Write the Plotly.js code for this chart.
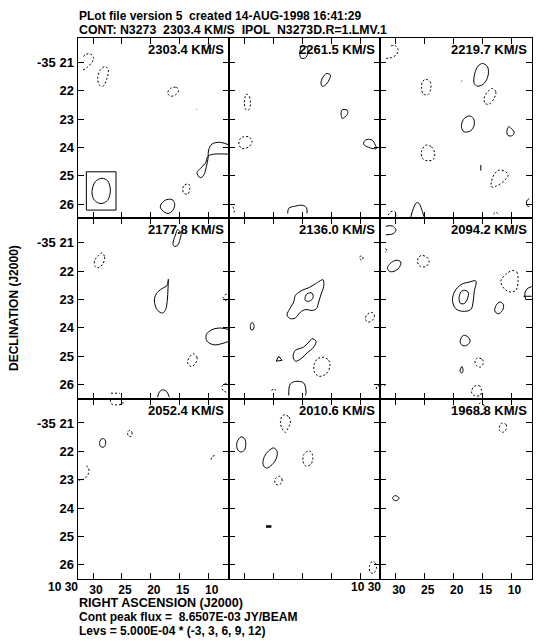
<!DOCTYPE html>
<html><head><meta charset="utf-8">
<script src="https://cdn.plot.ly/plotly-3.0.1.min.js"></script>
<style>html,body{margin:0;padding:0;background:#fff}#chart{width:547px;height:641px}</style>
</head><body><div id="chart"></div>
<script>
// ---------- data ----------
const velocities = ["2303.4","2261.5","2219.7","2177.8","2136.0","2094.2","2052.4","2010.6","1968.8"];
const raTickVals = [30, 25, 20, 15, 10];
const raTickText = ["30", "25", "20", "15", "10"];
const decTickVals = [21, 22, 23, 24, 25, 26];
const decTickText = ["-35 21", "22", "23", "24", "25", "26"];
const raRange = [32.68, 6.50];     // RA seconds of 10h30m
const decRange = [26.50, 20.14];   // Dec arcmin of -35 deg
const contourLevels = [-3, 3, 6, 9, 12];
const levelUnit = "5.000E-04";
const peakFlux = "8.6507E-03";
// beam
const beamRa = [28.44, 27.46, 27.00, 27.46, 28.62, 29.77, 30.17, 29.60];
const beamDec = [25.09, 25.18, 25.51, 25.86, 25.98, 25.86, 25.56, 25.21];
const beamBoxRa = [31.15, 26.02];
const beamBoxDec = [24.86, 26.21];

// contours per channel: [level, closed, ra[], dec[]]
const ch2303 = [
  [-3, 0, [31.73,31.04,30.35,29.88,30.35,31.15,31.73], [21.27,21.18,21.04,20.86,20.71,20.71,20.80]],
  [-3, 1, [27.87,27.35,27.58,28.27,28.90,29.19,28.73], [21.15,21.27,21.56,21.84,21.80,21.56,21.27]],
  [-3, 1, [16.63,15.59,15.19,15.76,16.63,17.09], [21.92,21.88,21.98,22.15,22.19,22.09]],
  [-3, 0, [12.15,12.10], [22.64,22.66]],
  [3, 0, [6.4,9.13,10.11,10.58,11.44,12.02,11.44,10.86,10.40,10.11,10.0,9.42,7.98,6.4], [24.24,24.24,24.31,24.56,24.74,24.89,25.07,24.98,24.68,24.39,24.09,23.88,23.82,23.92]],
  [-3, 1, [14.21,13.46,13.28,13.63,14.32,14.49], [25.33,25.29,25.48,25.65,25.60,25.45]],
  [3, 1, [17.49,16.34,15.88,16.17,17.03,18.07,18.36], [25.86,25.84,25.98,26.21,26.33,26.21,26.07]],
  [-3, 1, [10.58,9.83,9.60,9.94,10.52,10.75], [20.39,20.36,20.54,20.68,20.66,20.52]]
];
const ch2261 = [
  [3, 1, [20.03,19.16,19.05,19.45,20.20,20.43], [20.42,20.47,20.68,20.84,20.85,20.66]],
  [3, 1, [15.71,15.13,15.36,15.99,16.57,16.74,16.28], [21.39,21.45,21.62,21.80,21.84,21.68,21.48]],
  [-3, 1, [29.65,29.14,28.96,29.19,29.77,30.0,29.88], [22.12,22.21,22.45,22.66,22.66,22.45,22.21]],
  [3, 1, [13.11,12.25,12.13,12.71,13.05,13.28], [22.68,22.68,22.80,22.94,22.98,22.82]],
  [-3, 1, [30.12,29.08,28.67,29.25,30.40,30.92,30.81], [23.62,23.65,23.80,23.98,24.04,23.92,23.72]],
  [3, 1, [8.79,7.92,7.35,7.17,8.50,9.37,9.25], [23.72,23.74,23.92,24.04,24.00,23.89,23.78]],
  [3, 0, [22.51,22.33,21.18,20.03,19.28,19.16], [26.33,26.15,26.07,26.04,26.12,26.33]],
  [-3, 0, [31.96,31.73,31.96], [26.09,26.27,26.35]]
];
const ch2219 = [
  [-3, 0, [31.67,30.58,29.83,29.60,30.17,30.86], [20.86,20.82,20.71,20.54,20.40,20.42]],
  [3, 1, [15.01,14.15,14.03,14.73,15.88,16.45,16.34,15.76], [21.04,21.15,21.45,21.74,21.84,21.74,21.39,21.13]],
  [3, 0, [18.65,18.52], [21.66,21.66]],
  [-3, 1, [24.81,24.06,23.95,24.41,25.22,25.56,25.39], [21.60,21.68,21.92,22.13,22.12,21.92,21.68]],
  [-3, 1, [13.28,12.71,13.00,13.86,14.55,14.73,14.15], [21.92,22.04,22.27,22.47,22.45,22.27,22.04]],
  [3, 1, [17.32,16.57,16.45,17.03,18.18,18.64,18.30], [22.89,22.98,23.21,23.41,23.45,23.29,23.01]],
  [3, 1, [10.46,10.0,9.54,9.83,10.58,10.81], [23.27,23.34,23.45,23.58,23.58,23.45]],
  [-3, 1, [24.81,23.83,23.26,23.49,24.52,25.39,25.56], [23.92,23.98,24.21,24.42,24.47,24.39,24.15]],
  [3, 0, [15.30,15.30], [24.62,24.82]],
  [-3, 1, [12.13,10.98,10.58,11.27,12.71,13.46,13.46,12.88], [24.80,24.86,24.98,25.18,25.37,25.39,25.21,24.92]],
  [-3, 0, [31.33,30.86,30.17,29.83], [26.39,26.27,26.27,26.39]],
  [3, 0, [27.41,26.95,26.43,25.97,25.39,25.10], [26.45,26.15,25.95,25.98,26.27,26.45]],
  [-3, 0, [13.11,12.71,12.30], [26.35,26.27,26.35]],
  [3, 0, [6.94,7.35,7.35,6.94], [25.80,25.89,26.04,26.09]]
];
const ch2177 = [
  [3, 1, [15.36,14.78,15.01,15.36,15.94,16.17,15.76], [20.54,20.68,20.92,21.09,21.13,21.04,20.74]],
  [-3, 1, [28.44,27.98,28.27,29.02,29.65,29.71,29.02], [21.36,21.51,21.74,21.88,21.84,21.62,21.45]],
  [3, 1, [16.97,17.03,17.15,17.43,17.95,18.82,19.39,19.05,18.07,17.20], [22.29,22.62,23.04,23.35,23.48,23.39,23.06,22.80,22.62,22.51]],
  [-3, 0, [6.94,7.52,6.94], [22.80,22.94,23.06]],
  [3, 0, [6.4,7.98,9.42,10.40,10.29,9.13,7.69,6.4], [24.07,24.01,24.07,24.24,24.47,24.60,24.56,24.47]],
  [-3, 1, [12.59,12.02,12.30,13.05,13.63,13.34], [24.92,25.04,25.27,25.37,25.25,25.04]],
  [-3, 0, [6.94,7.69,7.52,6.94], [25.95,26.07,26.21,26.27]],
  [-3, 0, [26.89,25.39], [26.31,26.31]],
  [3, 0, [18.82,18.47,17.78,17.20,16.80], [26.45,26.25,26.19,26.27,26.45]]
];
const ch2136 = [
  [-3, 1, [10.06,9.48,9.71,9.94], [21.48,21.51,21.62,21.59]],
  [3, 1, [16.40,16.28,16.68,17.15,17.55,18.30,19.45,20.32,21.18,22.05,22.62,22.33,21.47,21.18,20.03,18.88,17.72], [22.31,22.54,22.78,23.09,23.33,23.39,23.36,23.45,23.65,23.68,23.56,23.39,23.09,22.86,22.68,22.59,22.45]],
  [6, 1, [19.16,18.30,18.13,18.70,19.45,19.45], [22.80,22.78,22.94,23.06,23.04,22.89]],
  [-3, 1, [7.92,7.52,7.87,8.67,9.08,8.67], [23.46,23.56,23.74,23.80,23.68,23.51]],
  [3, 1, [28.67,28.33,28.50,28.85,28.96], [23.81,23.92,24.07,24.07,23.92]],
  [3, 1, [18.30,17.61,18.01,19.16,20.20,21.18,21.58,21.18,19.74,18.70], [24.39,24.47,24.68,24.89,25.09,25.18,25.01,24.80,24.68,24.47]],
  [-3, 1, [16.40,15.42,15.24,15.99,17.15,17.90,17.90,17.32], [25.04,25.15,25.39,25.65,25.71,25.56,25.27,25.09]],
  [3, 1, [24.52,24.06,23.49], [25.18,25.01,25.15]],
  [3, 0, [22.33,22.05,20.89,19.74,19.34,19.45], [26.39,25.98,25.89,25.95,26.27,26.39]],
  [-3, 0, [25.33,24.93,24.52], [26.21,26.15,26.21]],
  [-3, 0, [6.60,7.17,7.17], [26.04,26.07,26.21]]
];
const ch2094 = [
  [3, 0, [31.73,30.58,30.0,30.40,31.73], [20.42,20.41,20.54,20.68,20.72]],
  [-3, 0, [31.79,31.44,31.79], [21.21,21.27,21.33]],
  [3, 1, [30.0,29.14,29.42,30.29,31.15,31.44,30.98], [21.62,21.68,21.88,22.01,22.01,21.88,21.74]],
  [-3, 1, [25.56,24.64,24.24,24.81,25.79,26.25,26.08], [21.45,21.51,21.68,21.84,21.84,21.68,21.53]],
  [3, 1, [16.17,16.45,16.63,17.03,18.47,19.63,20.20,19.80,18.64,17.32], [22.35,22.74,23.09,23.36,23.42,23.33,23.04,22.71,22.47,22.39]],
  [6, 1, [18.30,17.49,17.61,18.18,18.88,19.05,18.76], [22.68,22.74,22.98,23.15,23.13,22.94,22.74]],
  [-3, 1, [9.83,9.08,8.85,9.25,10.23,11.27,11.84,10.98], [21.98,22.04,22.33,22.68,22.74,22.62,22.35,22.12]],
  [3, 0, [6.4,7.35,7.69,7.52], [22.54,22.64,22.82,23.01]],
  [3, 0, [7.92,6.4], [22.89,22.89]],
  [3, 1, [11.96,11.38,11.56,12.30,12.88,12.65], [23.09,23.19,23.39,23.51,23.41,23.21]],
  [3, 1, [18.30,17.49,17.15,17.72,18.53,18.88], [24.27,24.33,24.47,24.62,24.62,24.47]],
  [-3, 1, [15.88,15.01,14.90,15.42,16.17,16.28], [25.07,25.12,25.27,25.39,25.31,25.15]],
  [3, 1, [18.59,18.36,18.59,18.88], [25.37,25.51,25.60,25.53]],
  [-3, 1, [16.45,15.59,15.19,15.42,16.45,16.92], [26.07,26.04,26.21,26.39,26.39,26.27]],
  [-3, 0, [32.71,31.90], [26.00,26.04]]
];
const ch2052 = [
  [-3, 0, [27.0,26.83,25.85,24.87,24.81], [20.18,20.32,20.36,20.32,20.20]],
  [-3, 1, [23.66,23.26,23.37,23.83,24.01], [21.26,21.33,21.47,21.47,21.33]],
  [3, 1, [28.44,27.92,27.81,28.16,28.73,28.85], [21.55,21.59,21.73,21.85,21.82,21.68]],
  [-3, 0, [31.15,30.75,30.86,31.61,32.48], [22.51,22.59,22.82,22.98,23.02]],
  [-3, 0, [9.60,9.42,8.85], [22.29,22.18,22.14]]
];
const ch2010 = [
  [-3, 1, [23.03,22.28,22.05,22.51,22.91,23.54,23.77,23.49], [20.71,20.79,21.0,21.20,21.33,21.18,20.94,20.76]],
  [3, 1, [30.58,29.94,29.77,30.0,30.69,31.21,31.27], [21.49,21.56,21.76,21.96,22.02,21.92,21.68]],
  [3, 1, [24.93,24.35,24.47,25.22,26.20,26.77,26.54,25.79], [21.88,22.0,22.24,22.47,22.59,22.47,22.18,21.98]],
  [-3, 1, [18.88,18.30,18.18,18.59,19.45,19.86,19.74], [21.98,22.08,22.29,22.47,22.51,22.35,22.12]],
  [-3, 1, [23.89,23.49,23.60,24.35,24.75,24.58], [22.88,22.98,23.12,23.18,23.09,22.94]],
  [3, 0, [26.25,25.33], [24.65,24.65]],
  [-3, 1, [7.92,7.35,7.17,7.64,8.21,8.38], [25.88,25.94,26.12,26.29,26.27,26.06]]
];
const ch1968 = [
  [-3, 1, [15.42,14.84,14.73,15.01,15.59,15.76], [20.29,20.35,20.53,20.71,20.67,20.47]],
  [-3, 1, [11.56,10.92,10.98,11.56,12.07,12.02], [21.0,21.06,21.24,21.33,21.26,21.09]],
  [3, 1, [30.12,29.42,30.0,30.58], [23.56,23.65,23.74,23.66]]
];
const channels = [ch2303, ch2261, ch2219, ch2177, ch2136, ch2094, ch2052, ch2010, ch1968];

// ---------- layout geometry (pixels) ----------
const W = 547, H = 641;
const colPx = [77.5, 228.9, 380.3, 531.7];
const rowPx = [38, 218.3, 398.6, 579];
const FONT = "Liberation Sans, Arial, sans-serif";
const tf = {family: FONT, size: 12, color: "#000", weight: "bold"};
const xTickFont = {family: FONT, size: 12, color: "#000", weight: "bold"};
const yTickFont = {family: FONT, size: 13, color: "#000", weight: "bold"};
const labFont = {family: FONT, size: 13, color: "#000", weight: "bold"};

const traces = [];
const layout = {
  width: W, height: H, margin: {l: 0, r: 0, t: 0, b: 0},
  paper_bgcolor: "#fff", plot_bgcolor: "#fff", showlegend: false,
  font: tf, annotations: [], shapes: []
};

for (let i = 0; i < 9; i++) {
  const r = Math.floor(i / 3), c = i % 3, n = i + 1;
  const xs = n === 1 ? "" : String(n);
  const xa = "x" + xs, ya = "y" + xs;
  layout["xaxis" + xs] = {
    domain: [colPx[c] / W, colPx[c + 1] / W], range: raRange, anchor: ya,
    showline: true, mirror: "ticks", linecolor: "#000", linewidth: 1,
    ticks: "inside", ticklen: 6, tickwidth: 1, tickcolor: "#000",
    tickmode: "array", tickvals: raTickVals, ticktext: raTickText,
    showticklabels: r === 2 && c !== 1, tickfont: xTickFont, ticklabelshift: -3,
    showgrid: false, zeroline: false, fixedrange: true
  };
  layout["yaxis" + xs] = {
    domain: [1 - rowPx[r + 1] / H, 1 - rowPx[r] / H], range: decRange, anchor: xa,
    showline: true, mirror: "ticks", linecolor: "#000", linewidth: 1,
    ticks: "inside", ticklen: 6, tickwidth: 1, tickcolor: "#000",
    tickmode: "array", tickvals: decTickVals, ticktext: decTickText,
    showticklabels: c === 0, tickfont: yTickFont,
    showgrid: false, zeroline: false, fixedrange: true
  };
  channels[i].forEach(cn => {
    const [lev, closed, ra, dec] = cn;
    const xx = ra.slice(), yy = dec.slice();
    if (closed) { xx.push(ra[0]); yy.push(dec[0]); }
    const thick = ra.length === 2 && dec[0] === dec[1] && Math.abs(ra[0]-ra[1]) > 0.5 && i === 7;
    traces.push({
      type: "scatter", mode: "lines", x: xx, y: yy, xaxis: xa, yaxis: ya,
      line: {color: "#000", width: thick ? 2.5 : 1, dash: lev < 0 ? "2px,2px" : "solid",
             shape: ra.length > 3 ? "spline" : "linear", smoothing: 1},
      hoverinfo: "skip"
    });
  });
  layout.annotations.push({
    text: velocities[i] + " KM/S", showarrow: false, font: labFont,
    xref: xa + " domain", yref: ya + " domain", x: 1, y: 1,
    xanchor: "right", yanchor: "top", xshift: -3, yshift: -2
  });
}

// beam in first panel
traces.push({
  type: "scatter", mode: "lines", x: beamRa.concat([beamRa[0]]), y: beamDec.concat([beamDec[0]]),
  xaxis: "x", yaxis: "y", line: {color: "#000", width: 1, shape: "spline"}, hoverinfo: "skip"
});
layout.shapes.push({
  type: "rect", xref: "x", yref: "y", x0: beamBoxRa[0], x1: beamBoxRa[1],
  y0: beamBoxDec[0], y1: beamBoxDec[1], line: {color: "#000", width: 1}
});

function paperAnn(text, px, py, extra) {
  return Object.assign({text, showarrow: false, font: tf, xref: "paper", yref: "paper",
    x: px / W, y: 1 - py / H, xanchor: "left", yanchor: "middle"}, extra || {});
}
layout.annotations.push(paperAnn("PLot file version 5  created 14-AUG-1998 16:41:29", 77, 16));
layout.annotations.push(paperAnn("CONT: N3273  2303.4 KM/S  IPOL  N3273D.R=1.LMV.1", 77, 30, {font: Object.assign({}, tf, {size: 12.3})}));
layout.annotations.push(paperAnn("RIGHT ASCENSION (J2000)", 77, 603, {font: Object.assign({}, tf, {size: 12.6})}));
layout.annotations.push(paperAnn("Cont peak flux =  " + peakFlux + " JY/BEAM", 77, 617));
layout.annotations.push(paperAnn("Levs = " + levelUnit + " * (" + contourLevels.join(", ") + ")", 77, 631));
layout.annotations.push(paperAnn("DECLINATION (J2000)", 14, 308, {textangle: -90, xanchor: "center"}));
["x7", "x9"].forEach(ax => layout.annotations.push({
  text: "10 30", showarrow: false, font: xTickFont, xref: ax, yref: "paper",
  x: raTickVals[0], y: 1 - 587 / H, xanchor: "right", yanchor: "middle", xshift: -13
}));

Plotly.newPlot("chart", traces, layout, {staticPlot: true, displayModeBar: false});
</script></body></html>
